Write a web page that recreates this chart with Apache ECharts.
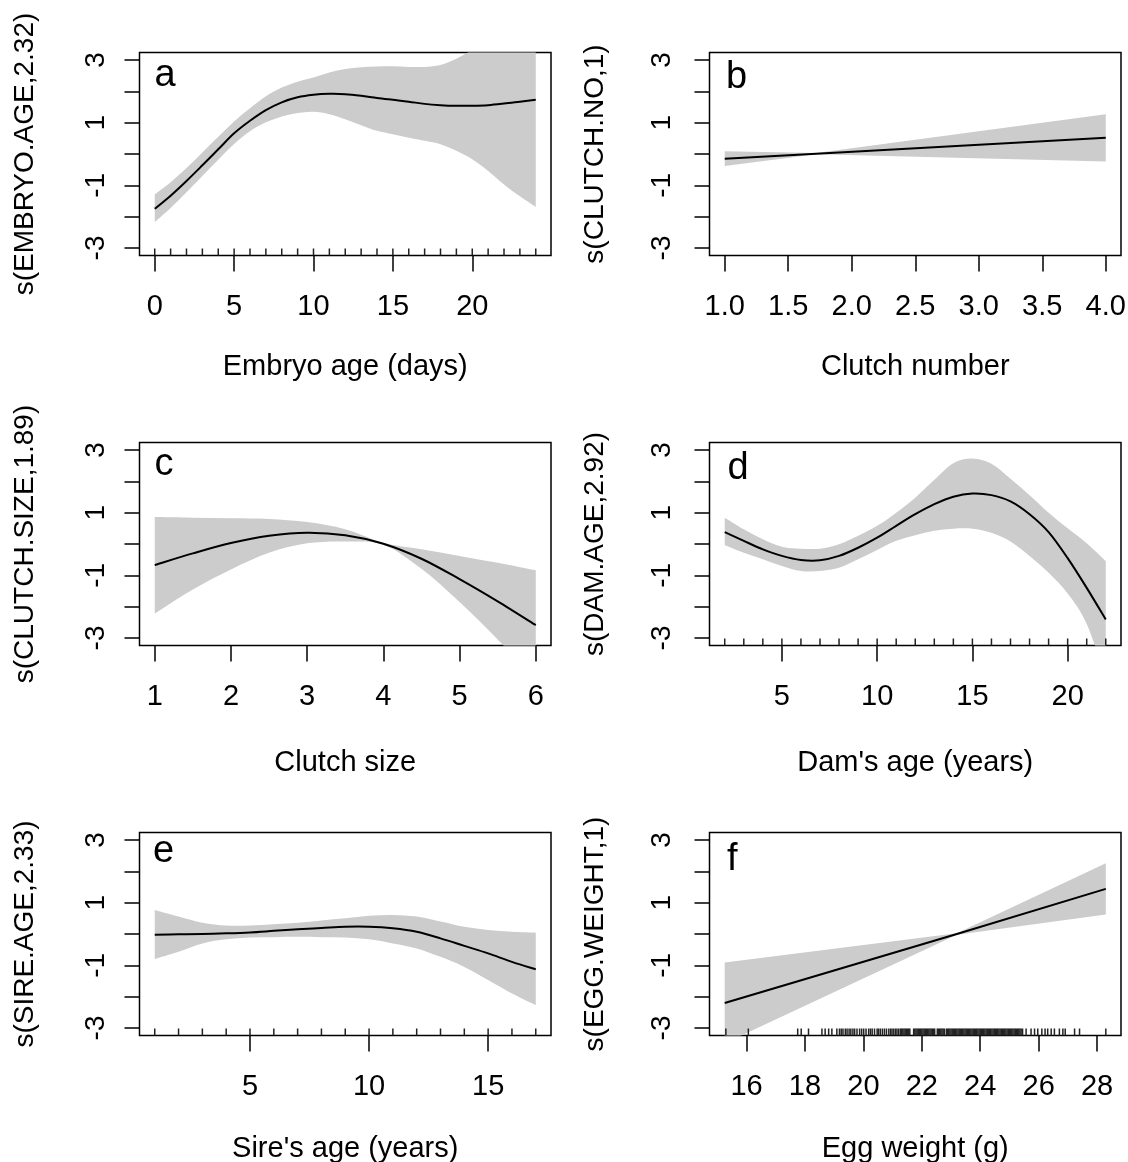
<!DOCTYPE html>
<html>
<head>
<meta charset="utf-8">
<script src="https://cdn.jsdelivr.net/npm/echarts@6/dist/echarts.min.js"></script>
<style>
  html, body { margin: 0; padding: 0; background: #fff; }
  #chart { width: 1128px; height: 1162px; }
</style>
</head>
<body>
<div id="chart"></div>
<script>
// ---- shared y scale of the smooth terms ----
const yTickValues = [-3, -2, -1, 0, 1, 2, 3];
const yTickLabels = [-3, -1, 1, 3];

// ---- a: embryo age ----
const embryoAge   = [0, 1, 2, 3, 4, 5, 6, 7, 8, 9, 10, 11, 12, 13, 14, 15, 16, 17, 18, 19, 20, 21, 22, 23, 24];
const embryoFit   = [-1.75, -1.33, -0.86, -0.36, 0.15, 0.66, 1.06, 1.40, 1.65, 1.81, 1.89, 1.92, 1.91, 1.86, 1.79, 1.73, 1.67, 1.60, 1.56, 1.54, 1.54, 1.56, 1.61, 1.67, 1.73];
const embryoUpper = [-1.29, -0.90, -0.45, 0.05, 0.55, 1.04, 1.46, 1.84, 2.12, 2.31, 2.44, 2.60, 2.71, 2.77, 2.79, 2.80, 2.78, 2.78, 2.84, 3.04, 3.33, 3.70, 4.15, 4.60, 5.10];
const embryoLower = [-2.17, -1.72, -1.22, -0.70, -0.18, 0.32, 0.73, 1.01, 1.20, 1.31, 1.35, 1.27, 1.11, 0.92, 0.74, 0.63, 0.52, 0.42, 0.31, 0.10, -0.17, -0.54, -0.97, -1.35, -1.69];
const embryoRug   = [0, 1, 2, 3, 4, 5, 6, 7, 8, 9, 10, 11, 12, 13, 14, 15, 16, 17, 18, 19, 20, 21, 22, 23, 24];
const embryoTicks = [0, 5, 10, 15, 20];

// ---- b: clutch number (linear term) ----
const clutchNo      = [1, 1.72, 4];
const clutchNoFit   = [-0.15, 0.01, 0.52];
const clutchNoUpper = [0.09, 0.03, 1.27];
const clutchNoLower = [-0.38, -0.01, -0.24];
const clutchNoTicks = [1, 1.5, 2, 2.5, 3, 3.5, 4];

// ---- c: clutch size ----
const clutchSize      = [1, 1.5, 2, 2.5, 3, 3.5, 4, 4.5, 5, 5.5, 6];
const clutchSizeFit   = [-0.67, -0.30, 0.03, 0.26, 0.36, 0.28, 0.01, -0.47, -1.12, -1.83, -2.59];
const clutchSizeUpper = [0.86, 0.84, 0.82, 0.80, 0.70, 0.47, 0.04, -0.17, -0.38, -0.60, -0.84];
const clutchSizeLower = [-2.22, -1.45, -0.81, -0.28, 0.02, 0.08, -0.02, -0.79, -1.85, -3.05, -4.35];
const clutchSizeTicks = [1, 2, 3, 4, 5, 6];

// ---- d: dam's age ----
const damAge   = [2, 3, 4, 5, 6, 7, 8, 9, 10, 11, 12, 13, 14, 15, 16, 17, 18, 19, 20, 21, 22];
const damFit   = [0.38, 0.10, -0.17, -0.38, -0.51, -0.52, -0.38, -0.12, 0.20, 0.58, 0.95, 1.27, 1.51, 1.61, 1.56, 1.36, 0.95, 0.38, -0.45, -1.40, -2.41];
const damUpper = [0.84, 0.47, 0.15, -0.09, -0.15, -0.15, -0.01, 0.26, 0.58, 1.00, 1.48, 2.05, 2.58, 2.73, 2.56, 2.08, 1.56, 1.00, 0.50, 0.02, -0.55];
const damLower = [-0.04, -0.28, -0.49, -0.70, -0.86, -0.86, -0.76, -0.49, -0.19, 0.10, 0.28, 0.42, 0.49, 0.49, 0.36, 0.08, -0.38, -0.92, -1.58, -2.55, -4.27];
const damRug   = [2, 3, 4, 5, 6, 7, 8, 9, 10, 11, 12, 13, 14, 15, 16, 17, 18, 19, 20, 21, 22];
const damTicks = [5, 10, 15, 20];

// ---- e: sire's age ----
const sireAge   = [1, 2, 3, 4, 5, 6, 7, 8, 9, 10, 11, 12, 13, 14, 15, 16, 17];
const sireFit   = [-0.02, -0.01, 0.00, 0.02, 0.05, 0.10, 0.15, 0.19, 0.23, 0.23, 0.18, 0.07, -0.14, -0.38, -0.62, -0.89, -1.13];
const sireUpper = [0.77, 0.56, 0.36, 0.27, 0.27, 0.31, 0.36, 0.43, 0.50, 0.58, 0.61, 0.56, 0.40, 0.23, 0.13, 0.07, 0.04];
const sireLower = [-0.80, -0.57, -0.30, -0.17, -0.11, -0.10, -0.09, -0.10, -0.11, -0.17, -0.30, -0.46, -0.73, -1.05, -1.47, -1.90, -2.27];
const sireRug   = [1, 2, 3, 4, 5, 6, 7, 8, 9, 10, 11, 12, 13, 14, 15, 16, 17];
const sireTicks = [5, 10, 15];

// ---- f: egg weight (linear term) ----
const eggWeight = [15.25, 23.2, 28.3];
const eggFit    = [-2.20, 0.00, 1.44];
const eggUpper  = [-0.91, 0.02, 2.26];
const eggLower  = [-3.49, -0.02, 0.62];
const eggTicks  = [16, 18, 20, 22, 24, 26, 28];
const eggRug = [
  15.29, 16.06, 17.75, 17.87, 18.12, 18.58, 18.69, 18.81, 18.92,
  19.09, 19.18, 19.24, 19.30, 19.38, 19.44, 19.51, 19.57, 19.64, 19.70, 19.78, 19.87, 19.94,
  20.01, 20.09, 20.18, 20.24, 20.30, 20.38, 20.47, 20.52, 20.58, 20.65, 20.72, 20.79, 20.87, 20.93, 20.98,
  21.04, 21.10, 21.15, 21.21, 21.27, 21.31, 21.35, 21.39, 21.43, 21.47, 21.51, 21.55, 21.59,
  21.72, 21.76, 21.80, 21.84, 21.88, 21.92, 21.96, 22.00, 22.04, 22.08, 22.12, 22.16, 22.20,
  22.24, 22.28, 22.32, 22.36, 22.40, 22.44, 22.53, 22.57, 22.61, 22.65, 22.69, 22.73, 22.77,
  22.84, 22.88, 22.92, 22.96, 23.00, 23.04, 23.08, 23.12, 23.16, 23.20, 23.24, 23.28, 23.32,
  23.36, 23.40, 23.44, 23.48, 23.52, 23.56, 23.60, 23.64, 23.68, 23.72, 23.76, 23.80, 23.84,
  23.88, 23.92, 23.96, 24.00, 24.04, 24.08, 24.12, 24.16, 24.20, 24.24, 24.28, 24.32, 24.36,
  24.40, 24.44, 24.48, 24.52, 24.56, 24.60, 24.64, 24.68, 24.72, 24.76, 24.80, 24.84, 24.88,
  24.92, 24.96, 25.00, 25.04, 25.08, 25.12, 25.16, 25.20, 25.24, 25.28, 25.32, 25.36, 25.40,
  25.45, 25.57, 25.74, 25.86, 25.97, 26.11, 26.22, 26.31, 26.43, 26.54, 26.71, 26.83, 26.91,
  27.23, 27.40, 28.30
];

// ---- panel texts ----
const panelLetters = ['a', 'b', 'c', 'd', 'e', 'f'];
const xTitles = ['Embryo age (days)', 'Clutch number', 'Clutch size', "Dam's age (years)", "Sire's age (years)", 'Egg weight (g)'];
const yTitles = ['s(EMBRYO.AGE,2.32)', 's(CLUTCH.NO,1)', 's(CLUTCH.SIZE,1.89)', 's(DAM.AGE,2.92)', 's(SIRE.AGE,2.33)', 's(EGG.WEIGHT,1)'];

// ---- panel definitions (data + axis extents) ----
const panels = [
  { x: embryoAge,  fit: embryoFit,     up: embryoUpper,     lo: embryoLower,     rug: embryoRug, ticks: embryoTicks,     xmin: -0.96, xmax: 24.96, smooth: true },
  { x: clutchNo,   fit: clutchNoFit,   up: clutchNoUpper,   lo: clutchNoLower,   rug: [],        ticks: clutchNoTicks,   xmin: 0.88,  xmax: 4.12,  smooth: false, fmt: v => v.toFixed(1) },
  { x: clutchSize, fit: clutchSizeFit, up: clutchSizeUpper, lo: clutchSizeLower, rug: [],        ticks: clutchSizeTicks, xmin: 0.8,   xmax: 6.2,   smooth: true },
  { x: damAge,     fit: damFit,        up: damUpper,        lo: damLower,        rug: damRug,    ticks: damTicks,        xmin: 1.2,   xmax: 22.8,  smooth: true },
  { x: sireAge,    fit: sireFit,       up: sireUpper,       lo: sireLower,       rug: sireRug,   ticks: sireTicks,       xmin: 0.36,  xmax: 17.64, smooth: true },
  { x: eggWeight,  fit: eggFit,        up: eggUpper,        lo: eggLower,        rug: eggRug,    ticks: eggTicks,        xmin: 14.73, xmax: 28.82, smooth: false }
];

// ---- layout ----
const FONT = '"Liberation Sans", Arial, sans-serif';
const colLeft = [139.5, 709.5];
const rowTop = [52.5, 442.5, 832.5];
const boxW = 411.5, boxH = 203;
const xNameGap = [97, 103, 99];
const letterPos = [[154.5, 95], [726, 97], [154.5, 484], [727.5, 488], [153, 871], [727, 879]];
const yLabelMargin = [29, 33];

// Path through pixel points: Catmull-Rom cubic segments when smooth, straight otherwise.
function pathThrough(pts, smooth, start) {
  let d = (start ? 'M' : 'L') + pts[0][0].toFixed(2) + ',' + pts[0][1].toFixed(2);
  for (let i = 0; i < pts.length - 1; i++) {
    const p1 = pts[i], p2 = pts[i + 1];
    if (!smooth) { d += ' L' + p2[0].toFixed(2) + ',' + p2[1].toFixed(2); continue; }
    const p0 = pts[i - 1] || p1, p3 = pts[i + 2] || p2;
    const c1 = [p1[0] + (p2[0] - p0[0]) / 6, p1[1] + (p2[1] - p0[1]) / 6];
    const c2 = [p2[0] - (p3[0] - p1[0]) / 6, p2[1] - (p3[1] - p1[1]) / 6];
    d += ' C' + c1[0].toFixed(2) + ',' + c1[1].toFixed(2) + ' ' + c2[0].toFixed(2) + ',' + c2[1].toFixed(2) +
         ' ' + p2[0].toFixed(2) + ',' + p2[1].toFixed(2);
  }
  return d;
}

const grid = [], xAxis = [], yAxis = [], series = [], graphic = [];

panels.forEach((p, i) => {
  const col = i % 2, row = Math.floor(i / 2);
  grid.push({
    left: colLeft[col], top: rowTop[row], width: boxW, height: boxH,
    show: true, borderColor: '#000', borderWidth: 1.5, backgroundColor: 'transparent',
    containLabel: false, outerBoundsMode: 'none'
  });
  xAxis.push({
    type: 'value', gridIndex: i, min: p.xmin, max: p.xmax,
    axisLine: { show: false, onZero: false }, splitLine: { show: false },
    axisTick: { show: true, length: 16, lineStyle: { color: '#000', width: 1.5 }, customValues: p.ticks },
    axisLabel: { customValues: p.ticks, formatter: p.fmt || (v => String(v)), margin: 37,
                 fontSize: 29, color: '#000', fontFamily: FONT },
    name: xTitles[i], nameLocation: 'middle', nameGap: xNameGap[row], nameMoveOverlap: false,
    nameTextStyle: { fontSize: 29, color: '#000', fontFamily: FONT }
  });
  yAxis.push({
    type: 'value', gridIndex: i, min: -3.24, max: 3.24,
    axisLine: { show: false, onZero: false }, splitLine: { show: false },
    axisTick: { show: true, length: 15, lineStyle: { color: '#000', width: 1.5 }, customValues: yTickValues },
    axisLabel: { customValues: yTickLabels, rotate: 90, margin: yLabelMargin[col],
                 fontSize: 28, color: '#000', fontFamily: FONT },
    name: yTitles[i], nameLocation: 'middle', nameGap: 100, nameMoveOverlap: false,
    nameTextStyle: { fontSize: 28, color: '#000', fontFamily: FONT }
  });

  // confidence band: one filled path from the upper edge and back along the lower edge
  series.push({
    type: 'custom', xAxisIndex: i, yAxisIndex: i, clip: true, silent: true, z: 1, animation: false,
    data: p.x.map((v, k) => [v, p.lo[k], p.up[k]]),
    encode: { x: 0, y: [1, 2] },
    renderItem: (params, api) => {
      if (params.dataIndexInside !== 0) return null;
      const n = params.dataInsideLength;
      const upper = [], lower = [];
      for (let k = 0; k < n; k++) {
        upper.push(api.coord([api.value(0, k), api.value(2, k)]));
        lower.push(api.coord([api.value(0, k), api.value(1, k)]));
      }
      const d = pathThrough(upper, p.smooth, true) + ' ' + pathThrough(lower.reverse(), p.smooth, false) + ' Z';
      return { type: 'path', shape: { pathData: d }, style: { fill: '#cccccc', stroke: null } };
    }
  });
  // fitted smooth
  series.push({
    type: 'custom', xAxisIndex: i, yAxisIndex: i, clip: true, silent: true, z: 3, animation: false,
    data: p.x.map((v, k) => [v, p.fit[k]]),
    encode: { x: 0, y: 1 },
    renderItem: (params, api) => {
      if (params.dataIndexInside !== 0) return null;
      const pts = [];
      for (let k = 0; k < params.dataInsideLength; k++) pts.push(api.coord([api.value(0, k), api.value(1, k)]));
      return { type: 'path', shape: { pathData: pathThrough(pts, p.smooth, true) },
               style: { fill: 'none', stroke: '#000', lineWidth: 2 } };
    }
  });
  // rug of observed covariate values along the bottom edge
  if (p.rug.length) {
    series.push({
      type: 'custom', xAxisIndex: i, yAxisIndex: i, silent: true, z: 2, animation: false,
      data: p.rug.map(v => [v, 0]), encode: { x: 0, y: 1 },
      renderItem: (params, api) => {
        const x = api.coord([api.value(0), 0])[0];
        const yb = params.coordSys.y + params.coordSys.height;
        return { type: 'line', shape: { x1: x, y1: yb, x2: x, y2: yb - 7 },
                 style: { stroke: '#222', lineWidth: 1.5 } };
      }
    });
  }
  graphic.push({
    type: 'text', x: letterPos[i][0], y: letterPos[i][1], silent: true, z: 100,
    style: { text: panelLetters[i], font: '38px ' + FONT, fill: '#000',
             textAlign: 'left', textVerticalAlign: 'bottom', align: 'left', verticalAlign: 'bottom' }
  });
});

const chart = echarts.init(document.getElementById('chart'), null, { renderer: 'canvas' });
chart.setOption({
  animation: false,
  backgroundColor: '#fff',
  grid, xAxis, yAxis, series, graphic
});
</script>
</body>
</html>
